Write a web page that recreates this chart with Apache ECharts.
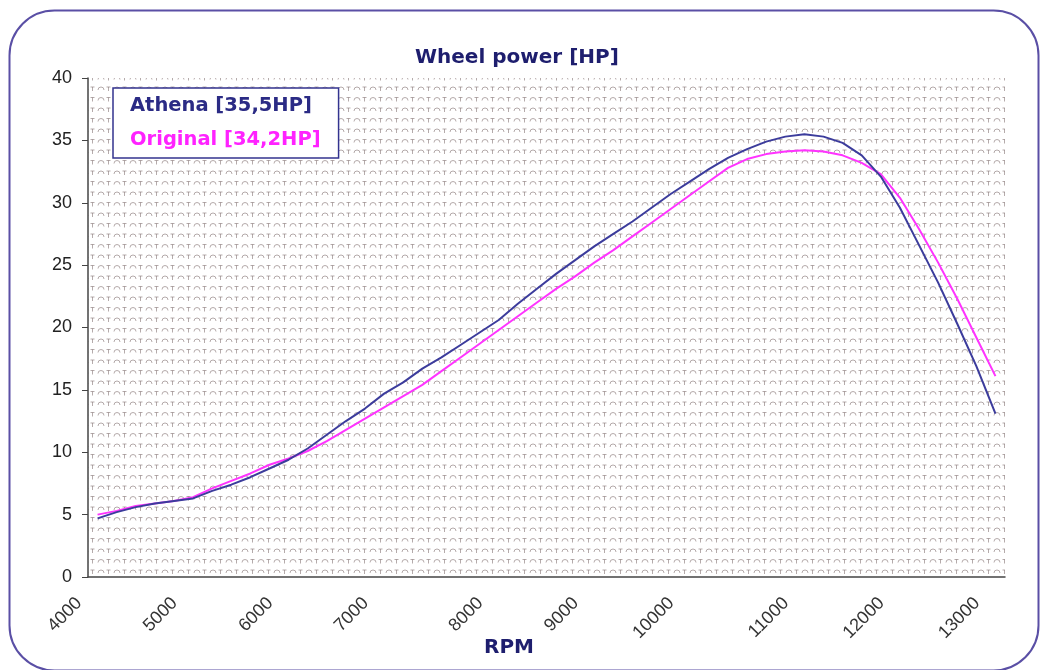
<!DOCTYPE html>
<html lang="en">
<head>
    <meta charset="UTF-8">
    <script src="https://cdn.jsdelivr.net/npm/echarts@6/dist/echarts.min.js"></script>
    <style>
        body, html {
            margin: 0;
            height: 100%;
            background: #fff;
        }

        #main {
            width: 1040px;
            height: 670px;
        }
    </style>
    <title>Wheel power</title>
</head>
<body>

<div id="main"></div>
<script type="text/javascript">
    const myChart = echarts.init(document.getElementById('main'));

    // rpm of each measured point (category axis, labels only on whole thousands)
    const rpm = [
        4000, 4200, 4400, 4600, 4800, 5000,
        5200, 5400, 5600, 5800, 6000,
        6200, 6400, 6600, 6800, 7000,
        7170, 7330, 7500, 7670, 7830, 8000,
        8200, 8400, 8600, 8800, 9000,
        9200, 9400, 9600, 9800, 10000,
        10170, 10330, 10500, 10670, 10830, 11000,
        11200, 11400, 11600, 11800, 12000,
        12200, 12400, 12600, 12800, 13000
    ];
    const athena = [
        4.7, 5.2, 5.6, 5.9, 6.1, 6.3,
        6.9, 7.4, 8.0, 8.7, 9.4,
        10.3, 11.4, 12.5, 13.5, 14.7,
        15.6, 16.7, 17.6, 18.6, 19.6, 20.6,
        21.9, 23.1, 24.3, 25.4, 26.5,
        27.5, 28.5, 29.6, 30.7, 31.7,
        32.7, 33.6, 34.3, 34.9, 35.3, 35.5,
        35.3, 34.8, 33.8, 32.1, 29.6,
        26.6, 23.6, 20.3, 16.9, 13.1
    ];
    const original = [
        5.0, 5.3, 5.7, 5.9, 6.1, 6.4,
        7.1, 7.7, 8.3, 9.0, 9.5,
        10.1, 10.9, 11.8, 12.7, 13.6,
        14.5, 15.4, 16.5, 17.6, 18.7, 19.8,
        20.9, 22.0, 23.1, 24.1, 25.2,
        26.2, 27.3, 28.4, 29.5, 30.6,
        31.7, 32.8, 33.5, 33.9, 34.1, 34.2,
        34.1, 33.8, 33.2, 32.3, 30.4,
        27.9, 25.2, 22.3, 19.2, 16.1
    ];
    const names = ['Athena [35,5HP]', 'Original [34,2HP]'];

    // little grey texture used as the plot background
    function makePattern() {
        const c = document.createElement('canvas');
        c.width = 16;
        c.height = 21;
        const g = c.getContext('2d');
        g.strokeStyle = 'rgba(135,120,120,0.62)';
        g.lineWidth = 1;
        [1, 11.5].forEach(function (y0) {
            g.beginPath();
            g.arc(5, y0 + 5, 3, Math.PI, 2 * Math.PI);
            g.stroke();
            g.beginPath();
            g.moveTo(10.5, y0 + 2);
            g.lineTo(14.5, y0 + 2);
            g.moveTo(12.5, y0 + 2);
            g.lineTo(12.5, y0 + 6);
            g.stroke();
        });
        return c;
    }

    const option = {
        animation: false,
        backgroundColor: '#fff',
        title: {
            text: 'Wheel power [HP]',
            left: 410,
            top: 43,
            textStyle: {
                fontFamily: 'DejaVu Sans',
                fontWeight: 'bold',
                fontSize: 20,
                color: '#1e1e6e'
            }
        },
        legend: {
            orient: 'vertical',
            left: 113,
            top: 88,
            icon: 'rect',
            itemWidth: 0,
            itemHeight: 16,
            itemGap: 14,
            padding: [8, 18, 8, 12],
            backgroundColor: '#fff',
            borderColor: '#33338f',
            borderWidth: 1.5,
            selectedMode: false,
            itemStyle: {opacity: 0},
            lineStyle: {opacity: 0},
            textStyle: {
                fontFamily: 'DejaVu Sans',
                fontWeight: 'bold',
                fontSize: 19.5
            },
            data: [
                {name: names[0], textStyle: {color: '#2b2b85'}},
                {name: names[1], textStyle: {color: '#ff22ff'}}
            ]
        },
        grid: {
            left: 88,
            right: 35,
            top: 78,
            bottom: 93,
            show: true,
            borderWidth: 0,
            backgroundColor: {image: makePattern(), repeat: 'repeat'}
        },
        xAxis: {
            type: 'category',
            data: rpm.map(String),
            boundaryGap: true,
            axisLine: {lineStyle: {color: '#444', width: 1.5}},
            axisTick: {interval: 0, length: 5, lineStyle: {color: '#444'}},
            axisLabel: {
                interval: function (index, value) {
                    return Number(value) % 1000 === 0;
                },
                rotate: 45,
                margin: 5,
                padding: [0, 26, 0, 0],
                fontFamily: 'Liberation Sans',
                fontSize: 18,
                color: '#333'
            },
            splitLine: {show: false}
        },
        yAxis: {
            type: 'value',
            min: 0,
            max: 40,
            interval: 5,
            axisLine: {show: true, lineStyle: {color: '#444', width: 1.5}},
            axisTick: {show: true, length: 6, lineStyle: {color: '#444'}},
            axisLabel: {
                margin: 16,
                fontFamily: 'Liberation Sans',
                fontSize: 18,
                color: '#222'
            },
            splitLine: {show: false}
        },
        graphic: [
            {
                type: 'rect',
                left: 7,
                top: 8,
                z: -10,
                shape: {width: 1029, height: 660, r: 45},
                style: {fill: 'none', stroke: '#5a4fa5', lineWidth: 2}
            },
            {
                type: 'text',
                x: 509,
                y: 648,
                style: {
                    text: 'RPM',
                    align: 'center',
                    verticalAlign: 'middle',
                    fontFamily: 'DejaVu Sans',
                    fontWeight: 'bold',
                    fontSize: 20,
                    fill: '#1e1e6e'
                }
            }
        ],
        series: [
            {
                name: names[0],
                type: 'line',
                data: athena,
                showSymbol: false,
                color: '#3c3c9c',
                lineStyle: {width: 2, color: '#3c3c9c'},
                z: 3
            },
            {
                name: names[1],
                type: 'line',
                data: original,
                showSymbol: false,
                color: '#ff33ff',
                lineStyle: {width: 2, color: '#ff33ff'},
                z: 2
            }
        ]
    };
    myChart.setOption(option);

</script>
</body>
</html>
